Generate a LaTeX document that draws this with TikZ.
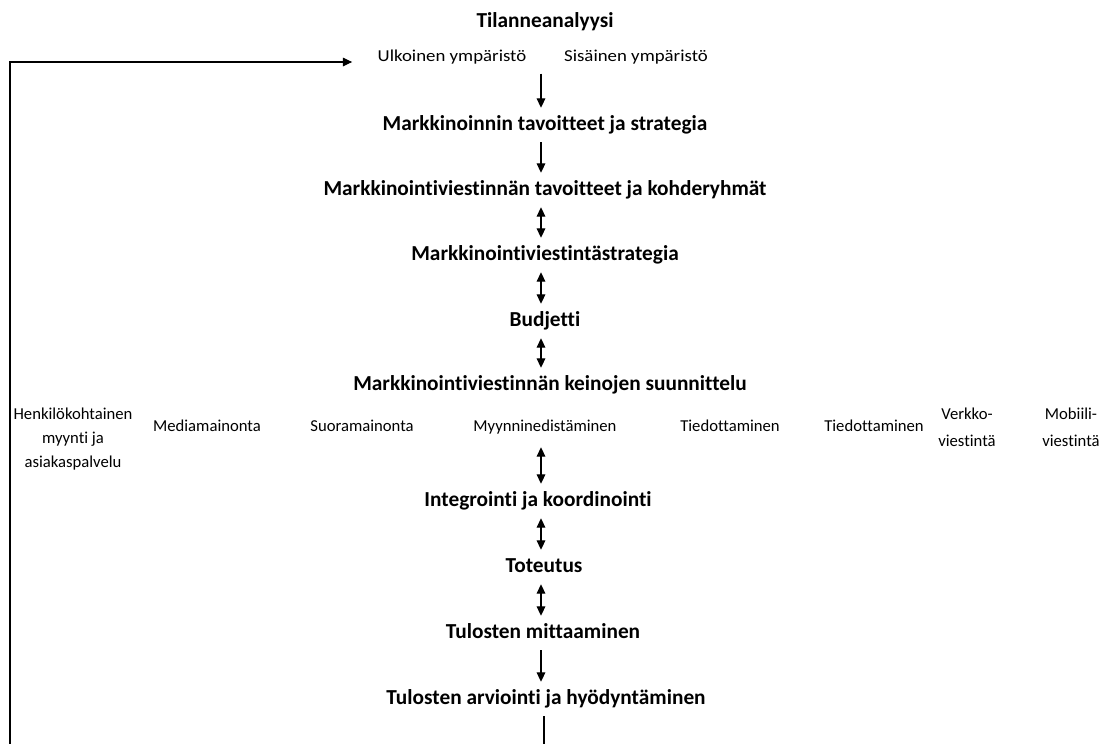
\documentclass[tikz,border=0pt]{standalone}
\usepackage{fontspec}
\setmainfont[Ligatures={NoCommon,NoRare,NoContextual}]{Carlito}
\usetikzlibrary{arrows.meta,calc}
\begin{document}
\begin{tikzpicture}[x=0.75pt,y=-0.75pt,
  head/.style={font=\bfseries\fontsize{16}{18}\selectfont, text height=12pt, text depth=4pt, inner xsep=2pt, inner ysep=4.75pt},
  lab/.style={font=\fontsize{12.5}{18}\selectfont, inner sep=2pt, align=center},
  lab1/.style={lab, text height=9pt, text depth=3pt},
  labw/.style={font=\fontsize{12.5}{20}\selectfont, inner sep=2pt, align=center},
  tipa/.style={-{Triangle[length=7pt,width=6.5pt]}, line width=0.8pt},
  tipb/.style={{Triangle[length=7pt,width=6.5pt]}-{Triangle[length=7pt,width=6.5pt]}, line width=0.8pt},
  loopline/.style={line width=0.8pt}]
\useasboundingbox (0,0) rectangle (1109,743);
\coordinate (col) at (541,0);
\node[head] (tila) at (545,22) {Tilanneanalyysi};
\node[lab, inner ysep=7pt] (ulk) at (452,57) {\scalebox{1.13}[1]{Ulkoinen ympäristö}};
\node[lab, inner ysep=7pt] (sis) at (636,57) {\scalebox{1.13}[1]{Sisäinen ympäristö}};
\node[head] (mts) at (545,125) {Markkinoinnin tavoitteet ja strategia};
\node[head] (mvt) at (545,190) {Markkinointiviestinnän tavoitteet ja kohderyhmät};
\node[head] (mvs) at (545,255) {Markkinointiviestintästrategia};
\node[head] (bud) at (545,321) {Budjetti};
\node[head] (kei) at (550,385) {Markkinointiviestinnän keinojen suunnittelu};
\node[lab] (hen) at (73,439) {Henkilökohtainen\\myynti ja\\asiakaspalvelu};
\node[lab1] (med) at (207,427) {Mediamainonta};
\node[lab1] (suo) at (362,427) {Suoramainonta};
\node[lab1, inner ysep=9pt] (myy) at (545,427) {Myynninedistäminen};
\node[lab1] (tie1) at (730,427) {Tiedottaminen};
\node[lab1] (tie2) at (874,427) {Tiedottaminen};
\node[labw] (ver) at (967,427) {Verkko-\\viestintä};
\node[labw] (mob) at (1071,427) {Mobiili-\\viestintä};
\node[head] (int) at (538,501) {Integrointi ja koordinointi};
\node[head] (tot) at (544,567) {Toteutus};
\node[head] (tmi) at (543,633) {Tulosten mittaaminen};
\node[head] (tar) at (546,699) {Tulosten arviointi ja hyödyntäminen};

\draw[tipa] (ulk.south -| col) -- (mts.north -| col);
\draw[tipa] (mts.south -| col) -- (mvt.north -| col);
\draw[tipb] (mvt.south -| col) -- (mvs.north -| col);
\draw[tipb] (mvs.south -| col) -- (bud.north -| col);
\draw[tipb] (bud.south -| col) -- (kei.north -| col);
\draw[tipb] (myy.south -| col) -- (int.north -| col);
\draw[tipb] (int.south -| col) -- (tot.north -| col);
\draw[tipb] (tot.south -| col) -- (tmi.north -| col);
\draw[tipa] (tmi.south -| col) -- (tar.north -| col);
\draw[loopline, -{Triangle[length=7pt,width=6.5pt]}, shorten >=17pt]
  (tar.south -| 544,0) -- (544,760) -- (10,760) -- (10,62) -- (ulk.west |- 10,62);
\end{tikzpicture}
\end{document}
